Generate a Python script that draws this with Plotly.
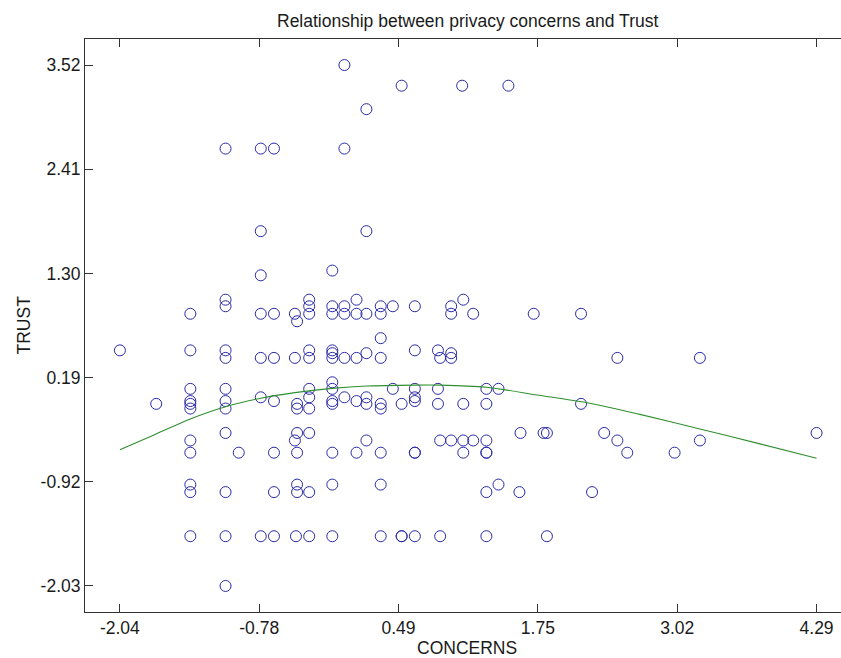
import plotly.graph_objects as go

# ---- data ----
# scatter points grouped by TRUST level (rows)
rows = [
    (3.52, [0.00]),
    (3.30, [0.52, 1.07, 1.49]),
    (3.05, [0.20]),
    (2.63, [-1.08, -0.76, -0.64, 0.00]),
    (1.75, [-0.76, 0.20]),
    (1.33, [-0.11]),
    (1.28, [-0.76]),
    (1.02, [-1.08, -0.32, 0.11, 1.08]),
    (0.95, [-1.08, -0.32, -0.11, 0.00, 0.33, 0.44, 0.64, 0.97]),
    (0.87, [-1.40, -0.76, -0.64, -0.45, -0.32, -0.11, 0.00, 0.11, 0.20, 0.33, 0.97, 1.17, 1.72, 2.15]),
    (0.79, [-0.43]),
    (0.61, [0.33]),
    (0.48, [-2.04, -1.40, -1.08, -0.32, -0.11, 0.64, 0.85]),
    (0.45, [-0.11, 0.20, 0.97]),
    (0.40, [-1.08, -0.76, -0.64, -0.45, -0.32, -0.11, 0.00, 0.11, 0.33, 0.87, 0.97, 2.48, 3.23]),
    (0.14, [-0.11]),
    (0.07, [-1.40, -1.08, -0.32, -0.11, 0.44, 0.64, 0.85, 1.29, 1.40]),
    (-0.02, [-0.76, -0.32, 0.00, 0.20, 0.64]),
    (-0.06, [-1.40, -1.08, -0.64, -0.11, 0.11, 0.64]),
    (-0.09, [-1.71, -1.40, -0.43, -0.11, 0.20, 0.33, 0.52, 0.85, 1.08, 1.29, 2.15]),
    (-0.14, [-1.40, -1.08, -0.43, -0.32, 0.33]),
    (-0.40, [-1.08, -0.43, -0.32, 1.60, 1.81, 1.84, 2.36, 4.29]),
    (-0.48, [-1.40, -0.45, 0.20, 0.87, 0.97, 1.08, 1.17, 1.29, 2.48, 3.23]),
    (-0.61, [-1.40, -0.96, -0.64, -0.43, -0.11, 0.11, 0.33, 0.64, 0.64, 1.08, 1.29, 1.29, 2.57, 3.00]),
    (-0.95, [-1.40, -0.43, -0.11, 0.33, 1.40]),
    (-1.03, [-1.40, -1.08, -0.64, -0.43, -0.32, 1.29, 1.59, 2.25]),
    (-1.50, [-1.40, -1.08, -0.76, -0.64, -0.44, -0.32, -0.11, 0.33, 0.52, 0.52, 0.64, 0.87, 1.29, 1.84]),
    (-2.03, [-1.08]),
]
concerns = [x for _, xs in rows for x in xs]
trust = [y for y, xs in rows for _ in xs]

# fitted curve
fit_x = [-2.04, -1.71, -1.40, -1.08, -0.76, -0.45, -0.11, 0.20, 0.64, 0.87, 1.29, 1.75, 2.23, 2.685, 3.23, 3.775, 4.29]
fit_y = [-0.58, -0.41, -0.25, -0.12, -0.03, 0.03, 0.075, 0.10, 0.11, 0.11, 0.087, 0.005, -0.083, -0.202, -0.357, -0.516, -0.67]

x_ticks = [-2.04, -0.774, 0.492, 1.758, 3.024, 4.29]
x_tick_labels = ["-2.04", "-0.78", "0.49", "1.75", "3.02", "4.29"]
y_ticks = [-2.03, -0.92, 0.19, 1.30, 2.41, 3.52]
y_tick_labels = ["-2.03", "-0.92", "0.19", "1.30", "2.41", "3.52"]

title = "Relationship between privacy concerns and Trust"
x_label = "CONCERNS"
y_label = "TRUST"

FONT = "Arial, Liberation Sans, Helvetica, sans-serif"

fig = go.Figure()
fig.add_trace(go.Scatter(
    x=concerns, y=trust, mode="markers",
    marker=dict(symbol="circle-open", size=11, color="#2a2aa8", line=dict(width=1, color="#2a2aa8")),
    showlegend=False, hoverinfo="x+y",
))
fig.add_trace(go.Scatter(
    x=fit_x, y=fit_y, mode="lines",
    line=dict(color="#2f8f2f", width=1.1, shape="spline", smoothing=0.8),
    showlegend=False,
))

fig.update_layout(
    width=841, height=658,
    margin=dict(l=85, r=0, t=39, b=46),
    paper_bgcolor="white", plot_bgcolor="white",
    font=dict(family=FONT, size=17.5, color="#1a1a1a"),
    xaxis=dict(
        range=[-2.357, 4.512], tickmode="array", tickvals=x_ticks, ticktext=x_tick_labels,
        showgrid=False, zeroline=False, showline=True, linecolor="#333", linewidth=1,
        mirror="ticks", ticks="inside", ticklen=8, tickcolor="#333", tickwidth=1,
    ),
    yaxis=dict(
        range=[-2.3075, 3.7975], tickmode="array", tickvals=y_ticks, ticktext=y_tick_labels,
        showgrid=False, zeroline=False, showline=True, linecolor="#333", linewidth=1,
        mirror=False, ticks="inside", ticklen=8, tickcolor="#333", tickwidth=1,
    ),
    annotations=[
        dict(text=title, xref="paper", yref="paper", x=0.5053, y=(612.4 - 20.5) / 573.4,
             xanchor="center", yanchor="middle", showarrow=False, font=dict(size=17.5)),
        dict(text=x_label, xref="paper", yref="paper", x=0.5053, y=(612.4 - 648) / 573.4,
             xanchor="center", yanchor="middle", showarrow=False, font=dict(size=17.5)),
        dict(text=y_label, xref="paper", yref="paper", x=(23 - 85) / 756, y=0.5,
             xanchor="center", yanchor="middle", textangle=-90, showarrow=False, font=dict(size=17.5)),
    ],
)

fig.write_html("out.html")
